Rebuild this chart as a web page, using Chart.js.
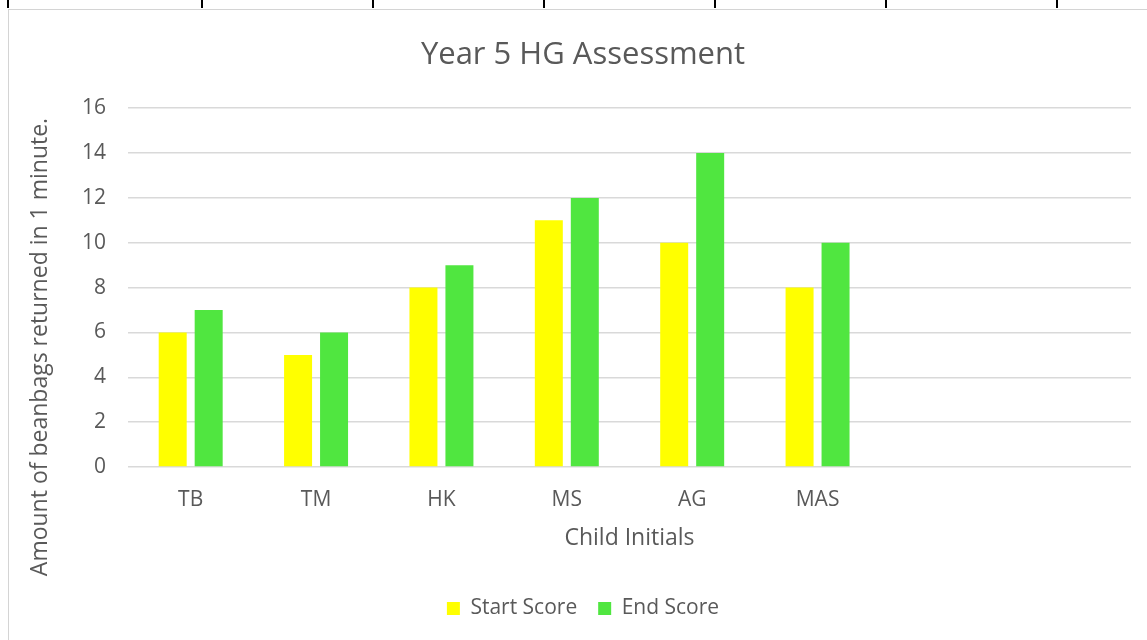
<!DOCTYPE html>
<html>
<head>
<meta charset="utf-8">
<script src="https://cdn.jsdelivr.net/npm/chart.js@4.4.1/dist/chart.umd.min.js"></script>
<style>
  body { margin: 0; background: #fff; overflow: hidden; width: 1147px; height: 640px; position: relative; }
  .rule { position: absolute; top: 0; width: 2px; height: 8px; background: #000; }
  #frame { position: absolute; left: 8px; top: 9px; width: 1170px; height: 660px;
           border-left: 1px solid #d4d4d4; border-top: 1px solid #d4d4d4; background: #fff; }
  #wrap { position: absolute; left: 0; top: 0; width: 1150px; height: 640px; }
</style>
</head>
<body>
<div class="rule" style="left:7px"></div>
<div class="rule" style="left:201px"></div>
<div class="rule" style="left:372px"></div>
<div class="rule" style="left:543px"></div>
<div class="rule" style="left:714px"></div>
<div class="rule" style="left:885px"></div>
<div class="rule" style="left:1056px"></div>
<div id="frame"><div id="wrap"><canvas id="scoreChart"></canvas></div></div>

<script>
// data
const children = ['TB', 'TM', 'HK', 'MS', 'AG', 'MAS', '', ''];
const startScore = [6, 5, 8, 11, 10, 8, null, null];
const endScore = [7, 6, 9, 12, 14, 10, null, null];
const yTicks = [0, 2, 4, 6, 8, 10, 12, 14, 16];

const FONT = "'Open Sans', sans-serif";
const TEXT = '#595959';

// y axis title sits centred on the whole chart, not the plot, so draw it here
const yTitlePlugin = {
    id: 'yTitle',
    afterDraw(chart) {
        const c = chart.ctx;
        c.save();
        c.translate(31, 337);
        c.rotate(-Math.PI / 2);
        c.font = '23px ' + FONT;
        c.fillStyle = TEXT;
        c.textAlign = 'center';
        c.textBaseline = 'middle';
        c.fillText('Amount of beanbags returned in 1 minute.', 0, 0);
        c.restore();
    }
};

new Chart(document.getElementById('scoreChart'), {
    type: 'bar',
    data: {
        labels: children,
        datasets: [
            { label: 'Start Score', data: startScore, backgroundColor: '#ffff00' },
            { label: 'End Score', data: endScore, backgroundColor: '#50e640' }
        ]
    },
    options: {
        responsive: true,
        maintainAspectRatio: false,
        animation: false,
        categoryPercentage: 0.574,
        barPercentage: 0.778,
        layout: { padding: { left: 26, right: 28, top: 0, bottom: 21 } },
        plugins: {
            title: {
                display: true,
                text: 'Year 5 HG Assessment',
                color: TEXT,
                font: { family: FONT, size: 31, weight: 'normal' },
                padding: { top: 27, bottom: 34 }
            },
            legend: {
                position: 'bottom',
                labels: {
                    color: TEXT,
                    font: { family: FONT, size: 21 },
                    boxWidth: 13,
                    boxHeight: 13,
                    padding: 21
                }
            },
            tooltip: { enabled: false }
        },
        scales: {
            x: {
                afterFit(scale) { scale.height = 110; },
                grid: { display: false, drawTicks: false },
                border: { display: false },
                ticks: { color: TEXT, font: { family: FONT, size: 21 }, padding: 20 },
                title: {
                    display: true,
                    text: 'Child Initials',
                    color: TEXT,
                    font: { family: FONT, size: 23 },
                    padding: { top: 0, bottom: 25 }
                }
            },
            y: {
                min: 0,
                max: 16,
                afterFit(scale) { scale.width = 93; },
                afterBuildTicks(scale) { scale.ticks = yTicks.map(v => ({ value: v })); },
                grid: { color: '#d9d9d9', lineWidth: 1.5, drawTicks: false },
                border: { display: false },
                ticks: { color: TEXT, font: { family: FONT, size: 21 }, padding: 22 }
            }
        }
    },
    plugins: [yTitlePlugin]
});
</script>
</body>
</html>
